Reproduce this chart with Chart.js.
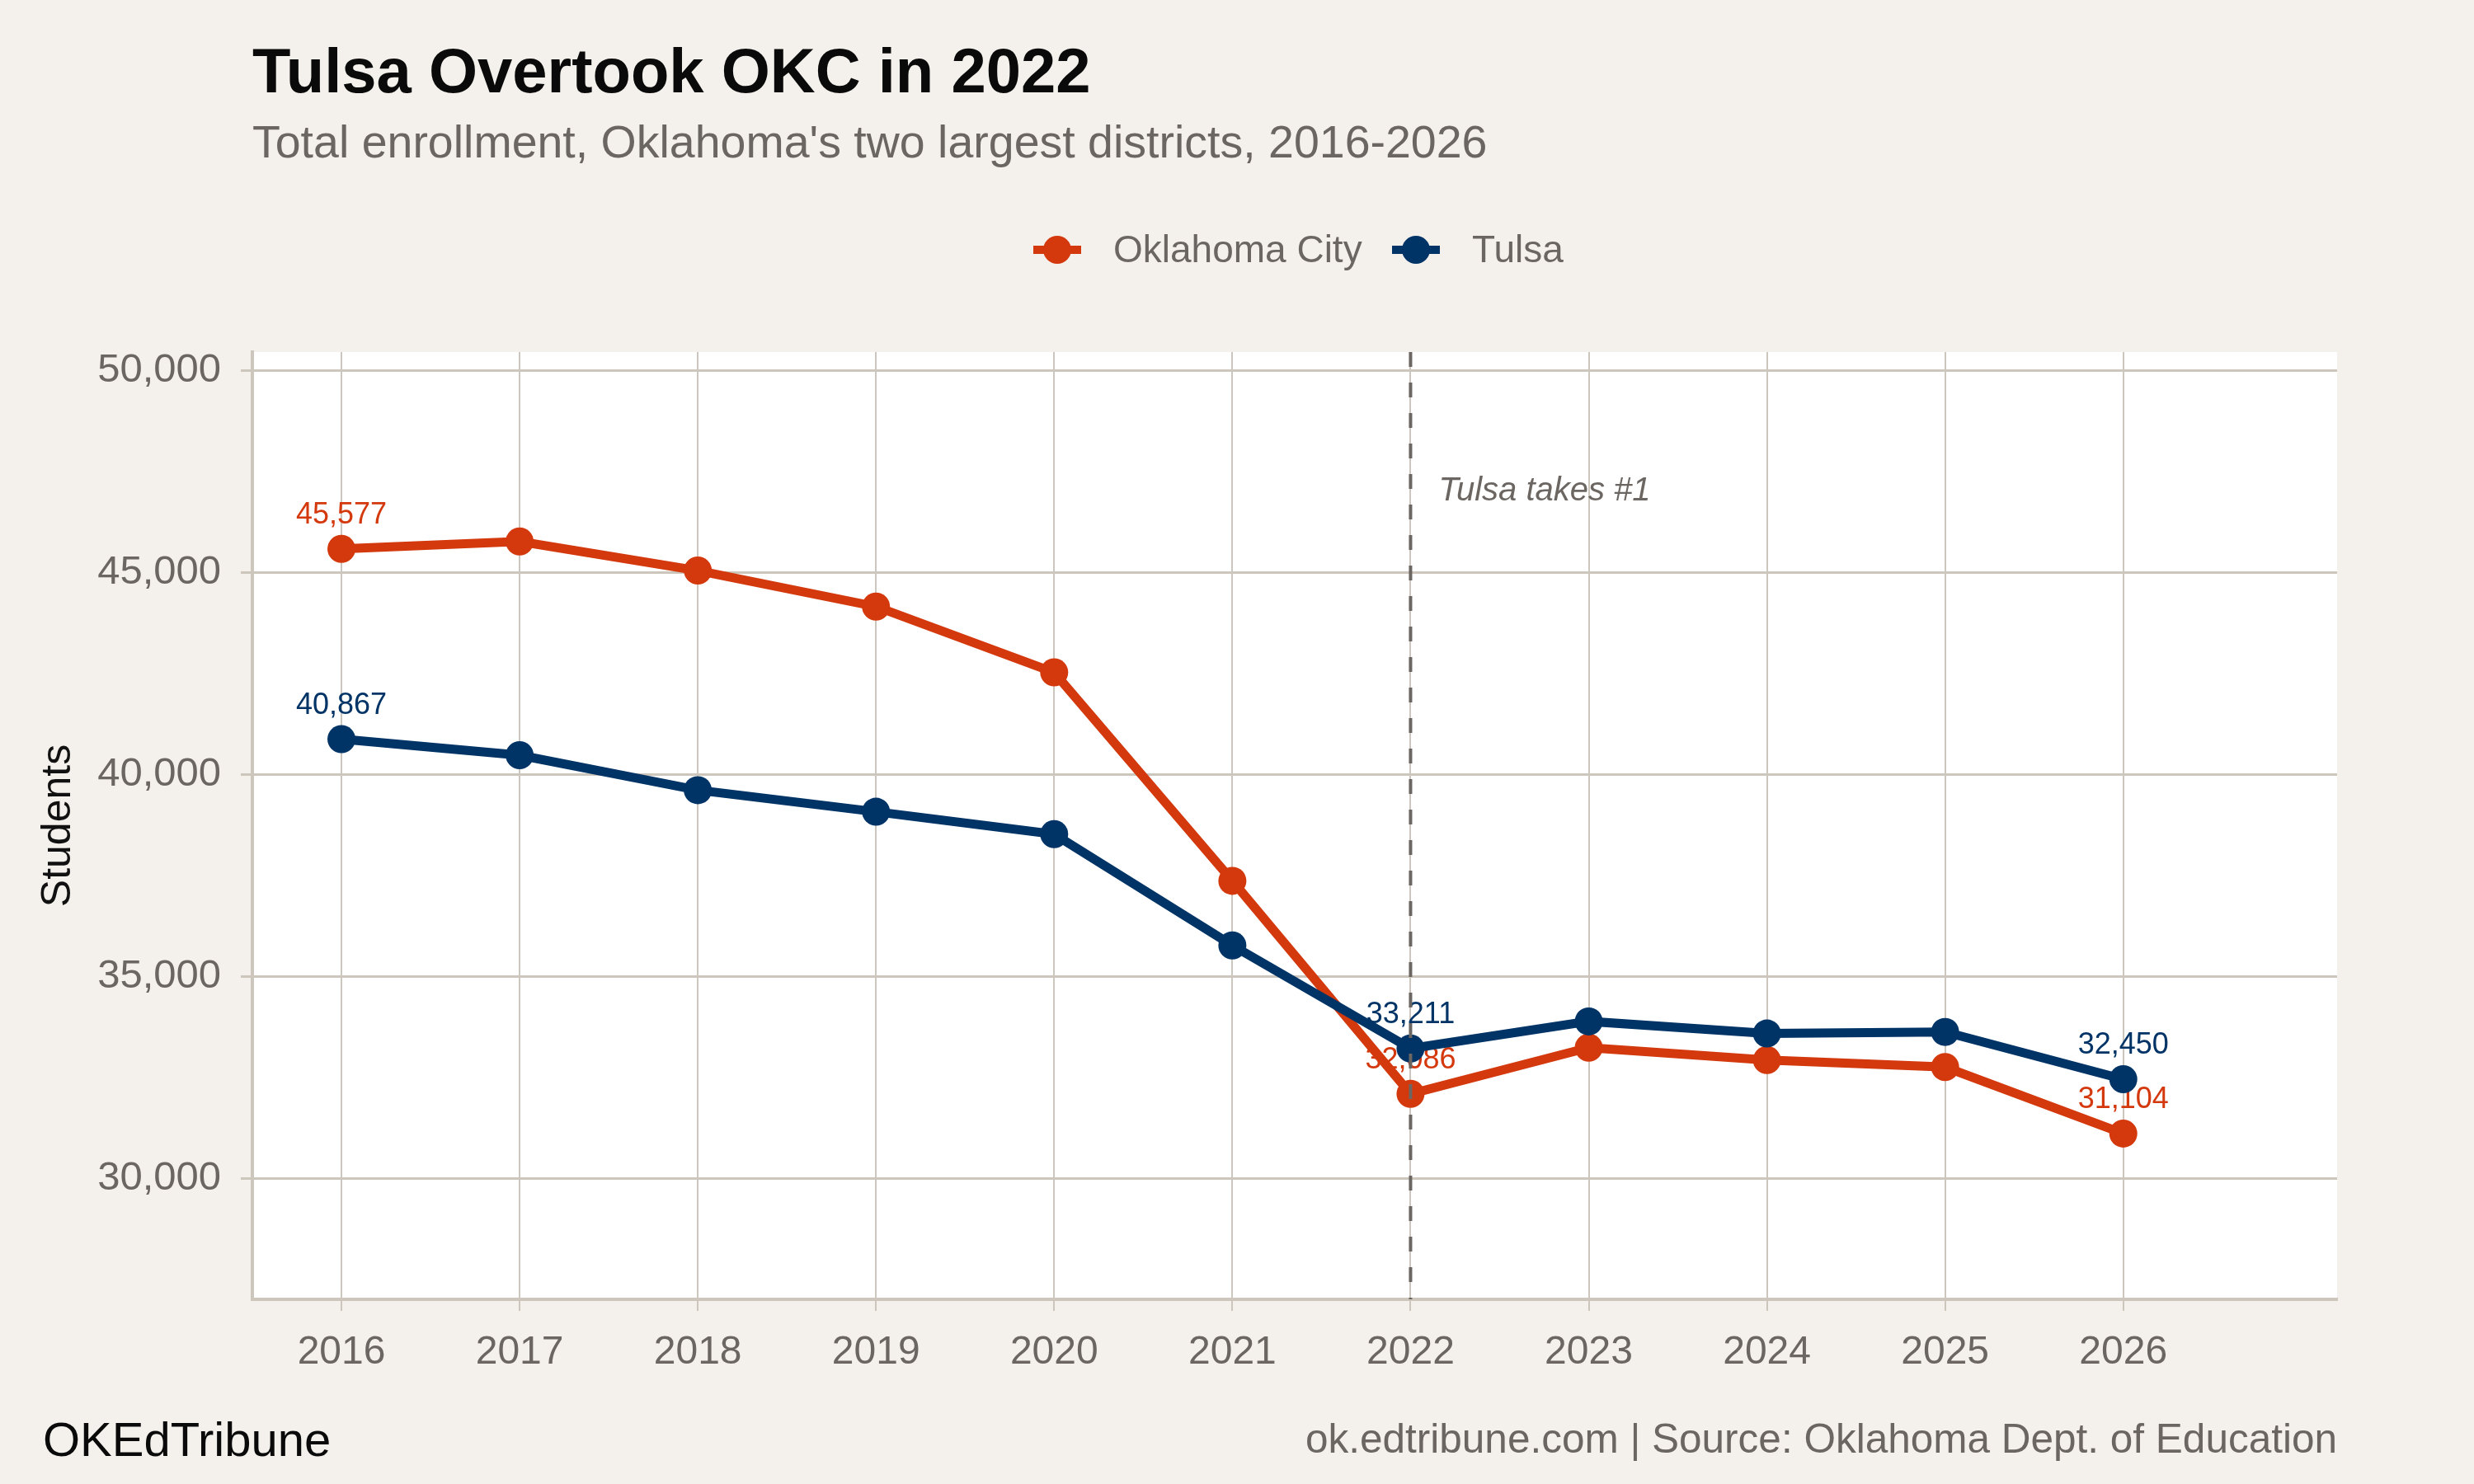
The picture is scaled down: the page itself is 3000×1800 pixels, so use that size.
<!DOCTYPE html>
<html>
    <head>
        <meta charset="UTF-8"/>
        <title>Tulsa Overtook OKC in 2022</title>
        <script src="https://cdn.jsdelivr.net/npm/chart.js@4.4.1/dist/chart.umd.min.js"></script>
        <style>
            html, body { margin: 0; padding: 0; background: #F4F1EC; }
            #wrap { width: 3000px; height: 1800px; }
        </style>
    </head>
    <body>
        <div id="wrap"><canvas id="chart" width="3000" height="1800"></canvas></div>
        <script>
            // enrollment by school year
            const years = [2016, 2017, 2018, 2019, 2020, 2021, 2022, 2023, 2024, 2025, 2026];
            const okcValues = [45577, 45760, 45040, 44150, 42520, 37360, 32086, 33230, 32925, 32750, 31104];
            const tulsaValues = [40867, 40470, 39605, 39070, 38515, 35760, 33211, 33880, 33580, 33620, 32450];
            const yTicks = [30000, 35000, 40000, 45000, 50000];
            const labelledYears = [2016, 2022, 2026];
            const crossYear = 2022;
            const noteValue = 47000;

            const okcColor = '#D4380D';
            const tulsaColor = '#003366';
            const gridColor = '#CDC6BD';
            const greyText = '#6B6661';
            const fontFamily = '"Liberation Sans", Arial, Helvetica, sans-serif';

            const fmt = v => v.toLocaleString('en-US');

            const chrome = {
                id: 'chrome',
                beforeDraw(chart) {
                    const ctx = chart.ctx;
                    const a = chart.chartArea;
                    ctx.save();
                    ctx.fillStyle = '#F4F1EC';
                    ctx.fillRect(0, 0, chart.width, chart.height);
                    ctx.fillStyle = '#FFFFFF';
                    ctx.fillRect(a.left, a.top, a.right - a.left, a.bottom - a.top);

                    // title + subtitle
                    ctx.textAlign = 'left';
                    ctx.textBaseline = 'alphabetic';
                    ctx.fillStyle = '#0A0A0A';
                    ctx.font = 'bold 76px ' + fontFamily;
                    ctx.fillText('Tulsa Overtook OKC in 2022', a.left, 112);
                    ctx.fillStyle = greyText;
                    ctx.font = '55.5px ' + fontFamily;
                    ctx.fillText("Total enrollment, Oklahoma's two largest districts, 2016-2026", a.left, 191);

                    // legend
                    const legend = [['Oklahoma City', okcColor, 1282], ['Tulsa', tulsaColor, 1717]];
                    ctx.font = '46px ' + fontFamily;
                    ctx.textBaseline = 'middle';
                    legend.forEach(([name, col, cx]) => {
                        ctx.fillStyle = col;
                        ctx.fillRect(cx - 29, 298, 58, 10);
                        ctx.beginPath();
                        ctx.arc(cx, 303, 17, 0, Math.PI * 2);
                        ctx.fill();
                        ctx.fillStyle = greyText;
                        ctx.fillText(name, cx + 68, 305);
                    });

                    // axis title
                    ctx.save();
                    ctx.translate(71, (a.top + a.bottom) / 2);
                    ctx.rotate(-Math.PI / 2);
                    ctx.textAlign = 'center';
                    ctx.fillStyle = '#111111';
                    ctx.font = '50px ' + fontFamily;
                    ctx.fillText('Students', 0, 0);
                    ctx.restore();

                    // footer
                    ctx.textBaseline = 'alphabetic';
                    ctx.textAlign = 'left';
                    ctx.fillStyle = '#0A0A0A';
                    ctx.font = '58px ' + fontFamily;
                    ctx.fillText('OKEdTribune', 52, 1766);
                    ctx.textAlign = 'right';
                    ctx.fillStyle = greyText;
                    ctx.font = '49.5px ' + fontFamily;
                    ctx.fillText('ok.edtribune.com | Source: Oklahoma Dept. of Education', a.right, 1762);
                    ctx.restore();
                },
                beforeDatasetsDraw(chart) {
                    // value labels sit under the lines, like the original
                    const ctx = chart.ctx;
                    ctx.save();
                    ctx.font = '36px ' + fontFamily;
                    ctx.textAlign = 'center';
                    ctx.textBaseline = 'alphabetic';
                    chart.data.datasets.forEach((ds, i) => {
                        const meta = chart.getDatasetMeta(i);
                        ctx.fillStyle = ds.borderColor;
                        ds.data.forEach((d, j) => {
                            if (!labelledYears.includes(d.x)) return;
                            const pt = meta.data[j];
                            ctx.fillText(fmt(d.y), pt.x, pt.y - 31);
                        });
                    });
                    ctx.restore();
                },
                afterDatasetsDraw(chart) {
                    const ctx = chart.ctx;
                    const a = chart.chartArea;
                    const xs = chart.scales.x;
                    const ys = chart.scales.y;
                    const px = xs.getPixelForValue(crossYear);
                    ctx.save();
                    ctx.strokeStyle = '#6B6661';
                    ctx.lineWidth = 4;
                    ctx.setLineDash([18, 19]);
                    ctx.beginPath();
                    ctx.moveTo(px, a.top);
                    ctx.lineTo(px, a.bottom);
                    ctx.stroke();
                    ctx.setLineDash([]);
                    ctx.fillStyle = greyText;
                    ctx.font = 'italic 40px ' + fontFamily;
                    ctx.textAlign = 'left';
                    ctx.textBaseline = 'middle';
                    ctx.fillText('Tulsa takes #1', px + 34, ys.getPixelForValue(noteValue));
                    ctx.restore();
                }
            };

            const ctx = document.getElementById('chart').getContext('2d');
            const myChart = new Chart(ctx, {
                type: 'line',
                data: {
                    datasets: [{
                        label: 'Tulsa',
                        data: years.map((y, i) => ({x: y, y: tulsaValues[i]})),
                        borderColor: tulsaColor,
                        backgroundColor: tulsaColor,
                        borderWidth: 11,
                        pointRadius: 17,
                        pointBorderWidth: 0,
                        order: 1
                    },
                    {
                        label: 'Oklahoma City',
                        data: years.map((y, i) => ({x: y, y: okcValues[i]})),
                        borderColor: okcColor,
                        backgroundColor: okcColor,
                        borderWidth: 11,
                        pointRadius: 17,
                        pointBorderWidth: 0,
                        order: 2
                    }]
                },
                options: {
                    responsive: false,
                    animation: false,
                    devicePixelRatio: 1,
                    layout: { padding: { top: 427, right: 166, bottom: 0, left: 0 } },
                    plugins: {
                        legend: { display: false },
                        tooltip: { enabled: false }
                    },
                    scales: {
                        x: {
                            type: 'linear',
                            min: 2015.5,
                            max: 2027.2,
                            afterFit: s => { s.height = 224; },
                            afterBuildTicks: s => { s.ticks = years.map(v => ({value: v})); },
                            grid: { color: gridColor, lineWidth: 2, tickLength: 14, tickColor: gridColor },
                            border: { color: gridColor, width: 4 },
                            ticks: {
                                color: greyText,
                                font: { family: fontFamily, size: 48 },
                                padding: 22,
                                maxRotation: 0,
                                callback: v => String(v)
                            }
                        },
                        y: {
                            min: 27000,
                            max: 50450,
                            afterFit: s => { s.width = 306; },
                            afterBuildTicks: s => { s.ticks = yTicks.map(v => ({value: v})); },
                            grid: { color: gridColor, lineWidth: 3, tickLength: 14, tickColor: gridColor },
                            border: { color: gridColor, width: 4 },
                            ticks: {
                                color: greyText,
                                font: { family: fontFamily, size: 49 },
                                padding: 24,
                                callback: v => fmt(v)
                            }
                        }
                    }
                },
                plugins: [chrome]
            });
        </script>
    </body>
</html>
